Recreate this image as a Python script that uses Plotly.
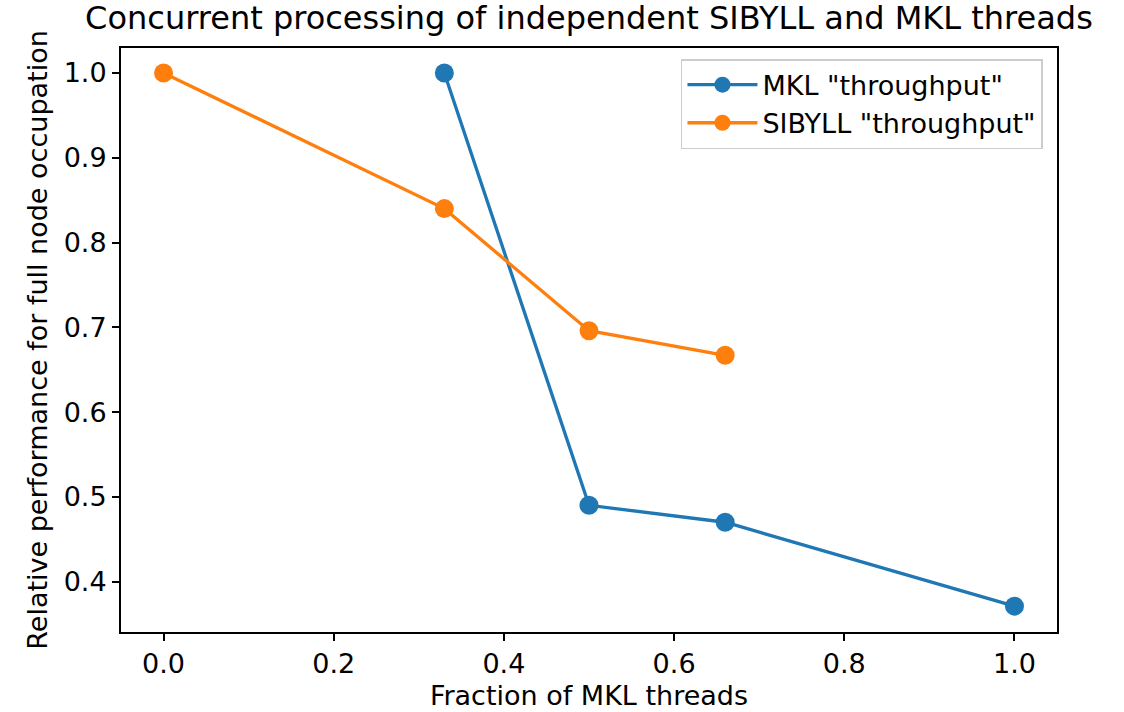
import plotly.graph_objects as go

mkl_x = [0.33, 0.5, 0.66, 1.0]
mkl_y = [1.0, 0.49, 0.47, 0.371]
sib_x = [0.0, 0.33, 0.5, 0.66]
sib_y = [1.0, 0.84, 0.696, 0.667]
x_ticks = [0.0, 0.2, 0.4, 0.6, 0.8, 1.0]
y_ticks = [0.4, 0.5, 0.6, 0.7, 0.8, 0.9, 1.0]

font = "DejaVu Sans"
fs = 27
fig = go.Figure()
fig.add_trace(go.Scatter(x=mkl_x, y=mkl_y, mode="lines+markers", name='MKL "throughput"',
                         line=dict(color="#1f77b4", width=3.3), marker=dict(size=19, color="#1f77b4")))
fig.add_trace(go.Scatter(x=sib_x, y=sib_y, mode="lines+markers", name='SIBYLL "throughput"',
                         line=dict(color="#ff7f0e", width=3.3), marker=dict(size=19, color="#ff7f0e")))

axis_common = dict(showline=True, linecolor="black", linewidth=2, mirror=True,
                   ticks="outside", ticklen=7, tickwidth=2, tickcolor="black", automargin=False,
                   showgrid=False, zeroline=False, tickfont=dict(size=fs, color="black", family=font))
fig.update_xaxes(range=[-0.05, 1.05], tickvals=x_ticks, ticktext=[f"{v:.1f}" for v in x_ticks],
                 title=dict(text="Fraction of MKL threads", font=dict(size=fs, color="black", family=font), standoff=8),
                 **axis_common)
fig.update_yaxes(range=[0.3405, 1.0295], tickvals=y_ticks, ticktext=[f"{v:.1f}" for v in y_ticks],
                 title=dict(text="Relative performance for full node occupation", font=dict(size=fs, color="black", family=font), standoff=8),
                 **axis_common)
fig.update_layout(
    width=1124, height=712,
    margin=dict(l=121, r=67, t=48, b=80),
    paper_bgcolor="white", plot_bgcolor="white",
    font=dict(family=font, size=fs, color="black"),
    title=dict(text="Concurrent processing of independent SIBYLL and MKL threads",
               x=0.524, xanchor="center", y=0.975, yanchor="middle",
               font=dict(size=32, color="black", family=font)),
    legend=dict(x=0.985, y=0.981, xanchor="right", yanchor="top",
                bordercolor="#cccccc", borderwidth=1.5, bgcolor="white",
                font=dict(size=fs, family=font, color="black"),
                itemwidth=70, tracegroupgap=0),
    showlegend=True,
)
fig.write_html("out.html")
